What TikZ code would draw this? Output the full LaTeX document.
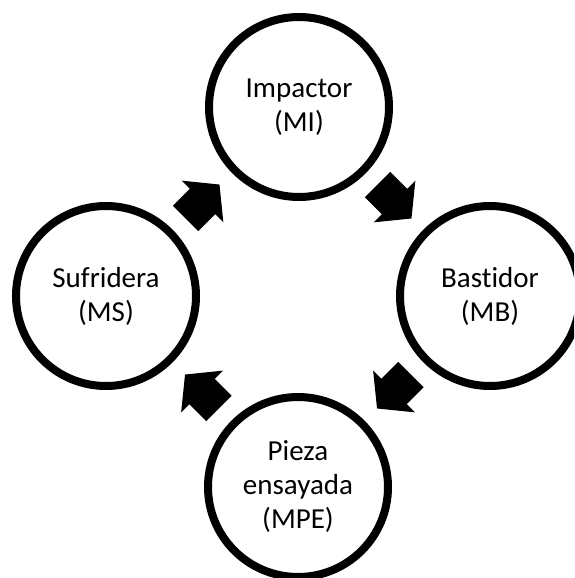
\documentclass[tikz,border=0pt]{standalone}
\usepackage{fontspec}
\setmainfont{Carlito}[RawFeature=-liga]
\usetikzlibrary{calc}
\tikzset{
  stage/.style={circle, draw=black, fill=white, line width=8pt, minimum size=180pt, inner sep=0pt, align=center, font=\fontsize{29}{34}\selectfont},
  blockarrow/.pic={\fill[black] (-24,-18) -- (0,-18) -- (0,-29.5) -- (24,0) -- (0,29.5) -- (0,18) -- (-24,18) -- cycle;}
}
\begin{document}
\begin{tikzpicture}[x=1pt,y=-1pt]
\useasboundingbox (0,0) rectangle (574,578);
\clip (0,0) rectangle (574,578);
\node[stage] (mi) at (299,107) {Impactor\\(MI)};
\node[stage] (mb) at (490,296) {Bastidor\\(MB)};
\node[stage] (mpe) at (298,487) {Pieza\\ensayada\\(MPE)};
\node[stage] (ms) at (106,296) {Sufridera\\(MS)};
\pic[rotate=-45] at ($(mi)!0.5!(mb)$) {blockarrow};
\pic[rotate=-135] at ($(mb)!0.5!(mpe)$) {blockarrow};
\pic[rotate=135] at ($(mpe)!0.5!(ms)$) {blockarrow};
\pic[rotate=45] at ($(ms)!0.5!(mi)$) {blockarrow};
\end{tikzpicture}
\end{document}
